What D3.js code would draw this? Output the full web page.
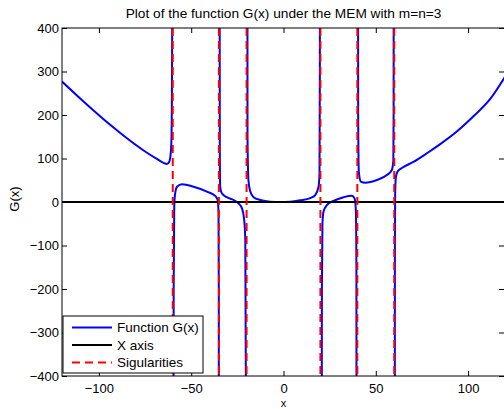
<!DOCTYPE html>
<html>
<head>
<meta charset="utf-8">
<style>
  body { margin: 0; background: #fff; }
  svg text { font-family: "Liberation Sans", Arial, sans-serif; fill: #000; }
</style>
<script src="https://d3js.org/d3.v7.min.js"></script>
</head>
<body>
<div id="chart"></div>
<script>
// singularity positions
var singularities = [-60, -35, -20, 20, 40, 60];

// G(x) branches, one array per branch between singularities
var branch1 = [[-120, 277], [-111.9, 245], [-102.9, 210.5], [-93.9, 177.5], [-84.8, 146.5],
  [-75.8, 118.5], [-68.6, 99], [-65, 90], [-63.3, 87.5], [-62.3, 89.5], [-61.4, 101], [-60.8, 132],
  [-60.5, 211], [-60.3, 400], [-60.25, 1000]];
var branch2 = [[-59.75, -1000], [-59.5, -200], [-59.2, -11], [-58.7, 20], [-57.7, 35], [-55, 41],
  [-48.7, 35], [-41.5, 24], [-37, 14], [-35.7, 5], [-35.2, -25], [-35.05, -200], [-35, -1000]];
var branch3 = [[-34.7, 1000], [-34.5, 120], [-34.3, 35], [-33.4, 20], [-30.7, 11], [-27, 4.6],
  [-24.4, -3], [-22.5, -14.5], [-21.3, -41], [-20.7, -87], [-20.4, -400], [-20.35, -1000]];
var branch4 = [[-19.6, 1000], [-19.5, 150], [-19, 50], [-18, 24], [-16.2, 11], [-12.6, 4.6],
  [-7.2, 0.7], [-1.8, 0], [3.6, 0.7], [9, 3.8], [14.5, 9], [17.2, 16], [19, 35], [19.5, 66], [19.7, 300], [19.75, 1000]];
var branch5 = [[20.6, -1000], [20.8, -200], [21.1, -49], [21.7, -22], [23.5, -7], [27.1, 2.3],
  [32.5, 11], [37, 14.6], [38.5, 8.4], [39.2, -18], [39.5, -150], [39.6, -1000]];
var branch6 = [[40.3, 1000], [40.45, 200], [40.8, 70], [41.9, 47], [44.3, 44.4], [50.6, 50.6],
  [56, 62], [58.7, 73.6], [59.5, 95], [59.65, 200], [59.75, 1000]];
var branch7 = [[60.25, -1000], [60.35, -100], [60.5, 20], [60.9, 58], [61.8, 70], [64.1, 78],
  [70.4, 92], [77.7, 112], [84.9, 133], [93.9, 162], [102.9, 197], [112, 237], [120, 288]];
var branches = [branch1, branch2, branch3, branch4, branch5, branch6, branch7];

var xTicks = [-100, -50, 0, 50, 100];
var yTicks = [-400, -300, -200, -100, 0, 100, 200, 300, 400];
var legendLabels = ["Function G(x)", "X axis", "Sigularities"];

var W = 504, H = 409;
var pl = 62, pr = 505, pt = 28, pb = 376;

var svg = d3.select("#chart").append("svg")
  .attr("width", W).attr("height", H);

var x = d3.scaleLinear().domain([-120, 120]).range([pl, pr]);
var y = d3.scaleLinear().domain([-400, 400]).range([pb, pt]);

svg.append("defs").append("clipPath").attr("id", "clip")
  .append("rect").attr("x", pl).attr("y", pt)
  .attr("width", pr - pl).attr("height", pb - pt);

var plot = svg.append("g").attr("clip-path", "url(#clip)");

var line = d3.line()
  .x(function(d) { return x(d[0]); })
  .y(function(d) { return y(d[1]); })
  .curve(d3.curveMonotoneX);

branches.forEach(function(b) {
  plot.append("path").datum(b)
    .attr("d", line)
    .attr("fill", "none")
    .attr("stroke", "#0000ff")
    .attr("stroke-width", 2);
});

// x axis line
plot.append("line")
  .attr("x1", pl).attr("x2", pr)
  .attr("y1", y(0)).attr("y2", y(0))
  .attr("stroke", "#000").attr("stroke-width", 2);

// singularities
plot.selectAll(".sing").data(singularities).enter().append("line")
  .attr("x1", function(d) { return x(d); }).attr("x2", function(d) { return x(d); })
  .attr("y1", pt).attr("y2", pb)
  .attr("stroke", "#ff0000").attr("stroke-width", 2)
  .attr("stroke-dasharray", "8,5");

// axes (ticks inside, like matlab)
var tick = 5;
var ax = svg.append("g");
ax.append("g").attr("transform", "translate(0," + pb + ")")
  .call(d3.axisBottom(x).tickValues(xTicks).tickSizeInner(-tick).tickSizeOuter(0).tickPadding(8));
ax.append("g").attr("transform", "translate(0," + pt + ")")
  .call(d3.axisTop(x).tickValues(xTicks).tickSizeInner(-tick).tickSizeOuter(0).tickFormat(""));
ax.append("g").attr("transform", "translate(" + pl + ",0)")
  .call(d3.axisLeft(y).tickValues(yTicks).tickSizeInner(-tick).tickSizeOuter(0).tickPadding(3));
ax.append("g").attr("transform", "translate(" + (pr - 1) + ",0)")
  .call(d3.axisRight(y).tickValues(yTicks).tickSizeInner(-tick).tickSizeOuter(0).tickFormat(""));
ax.selectAll(".domain").remove();
ax.selectAll("text").style("font-size", "13px").style("font-family", "Liberation Sans, Arial, sans-serif");
ax.selectAll(".tick line").attr("stroke", "#000");

svg.append("rect")
  .attr("x", pl).attr("y", pt)
  .attr("width", pr - pl).attr("height", pb - pt)
  .attr("fill", "none").attr("stroke", "#000").attr("stroke-width", 1);

// titles
svg.append("text").attr("x", x(0)).attr("y", 18).attr("text-anchor", "middle")
  .style("font-size", "13.7px").text("Plot of the function G(x) under the MEM with m=n=3");
svg.append("text").attr("x", x(0)).attr("y", 407).attr("text-anchor", "middle")
  .style("font-size", "11px").text("x");
svg.append("text").attr("transform", "translate(19,199) rotate(-90)")
  .attr("text-anchor", "middle").style("font-size", "13px").text("G(x)");

// legend
var lg = svg.append("g").attr("transform", "translate(63,316)");
lg.append("rect").attr("width", 140).attr("height", 57)
  .attr("fill", "#fff").attr("stroke", "#000").attr("stroke-width", 1);
var legendStyles = [
  { color: "#0000ff", dash: null },
  { color: "#000", dash: null },
  { color: "#ff0000", dash: "8,5" }
];
legendLabels.forEach(function(t, i) {
  var yy = 11.5 + i * 17.5;
  lg.append("line").attr("x1", 9).attr("x2", 49).attr("y1", yy).attr("y2", yy)
    .attr("stroke", legendStyles[i].color).attr("stroke-width", 2)
    .attr("stroke-dasharray", legendStyles[i].dash);
  lg.append("text").attr("x", 54).attr("y", yy + 4.5).style("font-size", "13.5px").text(t);
});
</script>
</body>
</html>
